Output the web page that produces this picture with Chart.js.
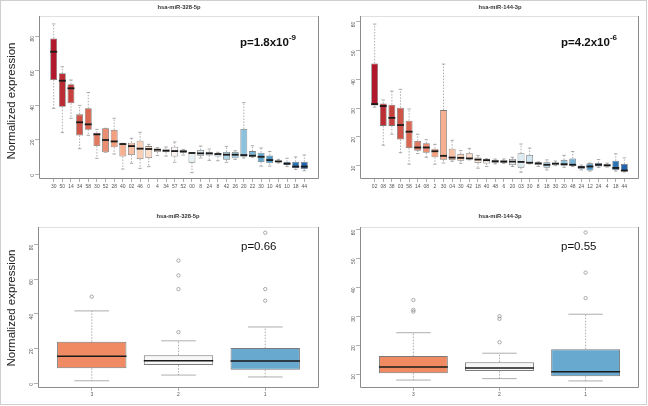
<!DOCTYPE html>
<html>
<head>
<meta charset="utf-8">
<script src="https://cdn.jsdelivr.net/npm/chart.js@4.4.1/dist/chart.umd.min.js"></script>
<style>
  html, body { margin: 0; padding: 0; background: #fff; }
  #wrap { position: relative; width: 648px; height: 406px; background: #fff; overflow: hidden; }
  #wrap canvas { position: absolute; }
  .frame { position: absolute; left: 0; top: 0; width: 647px; height: 405px; box-sizing: border-box; border: 1px solid #cfcfcf; pointer-events: none; }
  .title { position: absolute; width: 280px; text-align: center; font: bold 5.8px "Liberation Sans", Arial, sans-serif; color: #333; }
  .pval { position: absolute; font: 11.5px "Liberation Sans", Arial, sans-serif; color: #111; white-space: nowrap; }
  .pval.b { font-weight: bold; }
  .pval sup { font-size: 8px; position: relative; top: -1px; }
  .ylab { position: absolute; font: 11.5px "Liberation Sans", Arial, sans-serif; color: #222; white-space: nowrap; transform: translate(-50%, -50%) rotate(-90deg); }
</style>
</head>
<body>
<div id="wrap">
  <canvas id="cTL" width="324" height="203" style="left:0;top:0"></canvas>
  <canvas id="cTR" width="324" height="203" style="left:324px;top:0"></canvas>
  <canvas id="cBL" width="324" height="203" style="left:0;top:203px"></canvas>
  <canvas id="cBR" width="324" height="203" style="left:324px;top:203px"></canvas>

  <div class="title" style="left:39px;top:4px">hsa-miR-328-5p</div>
  <div class="title" style="left:360px;top:4px">hsa-miR-144-3p</div>
  <div class="title" style="left:38px;top:213px">hsa-miR-328-5p</div>
  <div class="title" style="left:360px;top:213px">hsa-miR-144-3p</div>

  <div class="pval b" style="left:240px;top:34px">p=1.8x10<sup>-9</sup></div>
  <div class="pval b" style="left:561px;top:34px">p=4.2x10<sup>-6</sup></div>
  <div class="pval" style="left:241px;top:240px">p=0.66</div>
  <div class="pval" style="left:561px;top:240px">p=0.55</div>

  <div class="ylab" style="left:11px;top:101px">Normalized expression</div>
  <div class="ylab" style="left:11px;top:308px">Normalized expression</div>
  <div class="frame"></div>
</div>
<script>
// hsa-miR-328-5p, per sample
const tlLabels = ['30','50','14','34','58','30','52','28','40','02','46','0','4','34','57','52','00','8','24','8','42','26','20','22','30','10','46','10','18','44'];
const tlLow  = [38.1,24.0,32.3,14.7,22.4,9.1,12.6,11.6,2.9,6.2,3.3,4.3,10.8,10.4,6.8,11.0,0.8,9.3,7.9,7.7,6.8,8.5,9.3,9.7,4.6,4.6,6.4,4.3,2.7,1.9];
const tlQ1   = [54.5,39.0,41.0,22.4,25.7,16.2,12.6,15.5,10.2,11.0,8.7,9.3,12.8,12.6,10.2,12.4,6.6,10.6,10.8,10.2,8.3,9.1,10.0,10.2,7.0,6.2,7.0,5.2,3.3,2.9];
const tlMed  = [70.9,54.1,49.7,30.0,28.8,23.0,19.7,18.9,17.4,16.2,14.7,14.5,14.1,13.5,13.3,13.1,12.2,12.0,12.0,11.6,11.2,11.2,11.0,10.6,10.0,8.1,7.3,6.0,4.3,4.3];
const tlQ3   = [78.6,58.4,52.0,34.6,38.1,24.0,26.5,25.5,17.4,18.2,19.3,16.2,14.7,14.7,15.8,13.9,12.4,13.9,12.9,12.0,12.8,12.8,26.1,13.3,12.4,10.8,7.9,7.1,7.1,7.1];
const tlHigh = [87.0,62.2,54.5,39.8,47.3,25.9,26.5,32.3,17.8,20.7,24.2,17.2,15.3,15.7,18.6,14.3,12.4,16.2,14.5,12.6,16.0,13.5,41.4,16.4,15.1,13.1,8.5,9.1,9.9,11.0];
const tlTicks = [0, 20, 40, 60, 80];

// hsa-miR-144-3p, per sample
const trLabels = ['02','08','38','03','58','14','08','2','30','04','30','42','18','40','48','6','20','03','30','8','18','30','20','48','24','12','24','4','18','44'];
const trLow  = [30.3,17.1,20.9,14.5,10.5,14.2,12.9,10.5,10.9,11.5,10.8,12.0,9.1,9.7,10.6,10.8,9.7,7.7,10.6,9.7,8.5,10.0,9.4,9.7,8.5,8.1,9.4,9.5,8.1,7.8];
const trQ1   = [30.9,23.8,23.8,19.1,16.1,15.2,14.5,12.9,12.0,11.9,11.7,12.2,10.9,10.7,11.0,11.0,10.2,9.3,10.8,10.2,9.3,10.1,10.0,10.0,8.8,8.3,9.7,9.7,8.5,8.0];
const trMed  = [31.4,30.7,26.6,24.1,21.8,16.3,16.3,15.0,13.4,12.8,12.7,12.5,12.1,11.9,11.5,11.4,11.4,11.3,11.0,10.8,10.3,10.7,10.5,10.3,9.5,9.7,10.3,10.1,9.2,8.3];
const trQ3   = [45.5,31.6,31.2,30.1,25.6,18.6,17.8,15.9,29.3,15.9,14.1,14.3,12.8,12.2,12.0,11.9,12.3,14.3,13.7,11.0,11.2,11.0,12.0,12.5,10.0,10.8,10.9,10.5,11.7,10.6];
const trHigh = [59.2,32.8,35.9,36.5,29.7,20.9,19.0,17.4,45.3,18.8,15.2,16.0,13.5,12.4,12.3,12.3,12.9,17.5,16.1,11.3,12.0,11.6,13.6,14.9,10.2,10.9,12.1,10.9,14.1,12.7];
const trTicks = [10, 20, 30, 40, 50, 60];

// grouped (3 / 2 / 1)
const grpLabels = ['3', '2', '1'];
const blLow  = [1.3, 4.6, 3.5];
const blQ1   = [8.6, 10.4, 7.7];
const blMed  = [15.5, 12.9, 12.7];
const blQ3   = [23.8, 16.1, 20.2];
const blHigh = [41.7, 24.4, 32.4];
const blOutGroup = ['3','2','2','2','2','1','1','1'];
const blOutValue = [49.9, 29.4, 54.3, 62.2, 70.8, 47.6, 54.3, 86.9];
const blTicks = [0, 20, 40, 60, 80];

const brLow  = [7.9, 8.4, 7.6];
const brQ1   = [10.3, 11.0, 9.2];
const brMed  = [12.4, 12.1, 10.8];
const brQ3   = [16.2, 14.1, 18.6];
const brHigh = [24.3, 17.2, 30.7];
const brOutGroup = ['3','3','3','2','2','2','1','1','1'];
const brOutValue = [35.6, 32.2, 31.6, 30.0, 29.1, 21.0, 59.0, 45.1, 36.3];
const brTicks = [10, 20, 30, 40, 50, 60];

const grpColors = ['#EF8A62', '#F7F7F7', '#67A9CF'];

// RdBu ramp for the per-sample panels
const rdbu = ['#B2182B','#D6604D','#F4A582','#FDDBC7','#F7F7F7','#D1E5F0','#92C5DE','#4393C3','#2166AC'];
function ramp(n) {
    const hex = h => [1, 3, 5].map(k => parseInt(h.substr(k, 2), 16));
    const out = [];
    for (let i = 0; i < n; i++) {
        const t = i / (n - 1) * (rdbu.length - 1);
        const k = Math.min(Math.floor(t), rdbu.length - 2);
        const f = t - k;
        const a = hex(rdbu[k]), b = hex(rdbu[k + 1]);
        out.push('rgb(' + a.map((v, j) => Math.round(v + (b[j] - v) * f)).join(',') + ')');
    }
    return out;
}

// whiskers, staples, medians and the plot frame, placed with the chart's own scales
function boxExtras(st) {
    return {
        id: 'boxExtras',
        afterDatasetsDraw(chart) {
            const ctx = chart.ctx;
            const y = chart.scales.y;
            const meta = chart.getDatasetMeta(0);
            ctx.save();
            st.med.forEach((m, i) => {
                const bar = meta.data[i];
                const cx = bar.x, w = bar.width;
                ctx.strokeStyle = '#8a8a8a';
                ctx.lineWidth = 0.7;
                ctx.setLineDash([1.5, 1.5]);
                ctx.beginPath();
                ctx.moveTo(cx, y.getPixelForValue(st.q3[i]));
                ctx.lineTo(cx, y.getPixelForValue(st.hi[i]));
                ctx.moveTo(cx, y.getPixelForValue(st.q1[i]));
                ctx.lineTo(cx, y.getPixelForValue(st.lo[i]));
                ctx.stroke();
                ctx.setLineDash([]);
                ctx.beginPath();
                [st.hi[i], st.lo[i]].forEach(v => {
                    const py = y.getPixelForValue(v);
                    ctx.moveTo(cx - w / 4, py);
                    ctx.lineTo(cx + w / 4, py);
                });
                ctx.stroke();
                ctx.strokeStyle = '#1a1a1a';
                ctx.lineWidth = st.medWidth;
                ctx.beginPath();
                const pm = y.getPixelForValue(m);
                ctx.moveTo(cx - w / 2, pm);
                ctx.lineTo(cx + w / 2, pm);
                ctx.stroke();
            });
            ctx.restore();
        },
        afterDraw(chart) {
            const a = chart.chartArea, ctx = chart.ctx;
            ctx.save();
            ctx.lineWidth = 1;
            ctx.strokeStyle = '#e0e0e0';
            ctx.beginPath();
            ctx.moveTo(a.left, a.top + 0.5); ctx.lineTo(a.right, a.top + 0.5);
            ctx.stroke();
            ctx.strokeStyle = '#8c8c8c';
            ctx.beginPath();
            ctx.moveTo(a.left + 0.5, a.top); ctx.lineTo(a.left + 0.5, a.bottom + 0.5);
            ctx.lineTo(a.right - 0.5, a.bottom + 0.5); ctx.lineTo(a.right - 0.5, a.top);
            ctx.stroke();
            ctx.restore();
        }
    };
}

function makePanel(id, p) {
    const n = p.labels.length;
    // R style x range: 0.5 .. n + 0.5, widened 4% each side
    const xPad = 0.04 * n;
    const datasets = [{
        data: p.q1.map((v, i) => ({ x: i + 1, y: [v, p.q3[i]] })),
        backgroundColor: p.colors,
        borderColor: '#7a7a7a',
        borderWidth: p.boxLine,
        borderSkipped: false,
        barPercentage: 0.8,
        categoryPercentage: 1.0
    }];
    if (p.outGroup) {
        datasets.push({
            type: 'line',
            showLine: false,
            data: p.outGroup.map((g, i) => ({ x: p.labels.indexOf(g) + 1, y: p.outValue[i] })),
            pointRadius: 1.7,
            pointBorderWidth: 0.6,
            pointBorderColor: '#777',
            pointBackgroundColor: 'rgba(0,0,0,0)'
        });
    }
    return new Chart(document.getElementById(id), {
        type: 'bar',
        data: { datasets: datasets },
        options: {
            responsive: false,
            animation: false,
            devicePixelRatio: 1,
            layout: { padding: p.padding },
            plugins: { legend: { display: false }, tooltip: { enabled: false } },
            scales: {
                x: {
                    type: 'linear',
                    min: 0.5 - xPad, max: n + 0.5 + xPad,
                    offset: false,
                    grid: { display: true, offset: false, drawOnChartArea: false, tickLength: 4, color: '#8c8c8c', lineWidth: 0.7 },
                    border: { display: false },
                    ticks: {
                        autoSkip: false, maxRotation: 0, minRotation: 0, padding: p.xPad, color: '#555',
                        font: { family: 'Liberation Sans', size: 5 },
                        callback: v => p.labels[v - 1]
                    },
                    afterBuildTicks: s => { s.ticks = p.labels.map((l, i) => ({ value: i + 1 })); },
                    afterFit: s => { s.height = p.xHeight; }
                },
                y: {
                    min: p.yMin, max: p.yMax,
                    grid: { display: true, drawOnChartArea: false, tickLength: 4, color: '#8c8c8c', lineWidth: 0.7 },
                    border: { display: false },
                    ticks: { minRotation: 90, maxRotation: 90, padding: 2, color: '#555', font: { family: 'Liberation Sans', size: 5 } },
                    afterBuildTicks: s => { s.ticks = p.ticks.map(v => ({ value: v })); },
                    afterFit: s => { s.width = p.yWidth; }
                }
            }
        },
        plugins: [boxExtras({ lo: p.lo, q1: p.q1, med: p.med, q3: p.q3, hi: p.hi, medWidth: p.medWidth })]
    });
}

const sampleColors = ramp(30);

makePanel('cTL', {
    labels: tlLabels, lo: tlLow, q1: tlQ1, med: tlMed, q3: tlQ3, hi: tlHigh, colors: sampleColors,
    yMin: -2.3, yMax: 91.6, ticks: tlTicks, yWidth: 39, xHeight: 25, xPad: 2,
    padding: { top: 16, right: 5, left: 0, bottom: 0 }, medWidth: 1.8, boxLine: 0.8
});
makePanel('cTR', {
    labels: trLabels, lo: trLow, q1: trQ1, med: trMed, q3: trQ3, hi: trHigh, colors: sampleColors,
    yMin: 5.7, yMax: 62.0, ticks: trTicks, yWidth: 36, xHeight: 25, xPad: 2,
    padding: { top: 16, right: 9, left: 0, bottom: 0 }, medWidth: 1.8, boxLine: 0.8
});
makePanel('cBL', {
    labels: grpLabels, lo: blLow, q1: blQ1, med: blMed, q3: blQ3, hi: blHigh, colors: grpColors,
    outGroup: blOutGroup, outValue: blOutValue,
    yMin: -2.3, yMax: 90.2, ticks: blTicks, yWidth: 38, xHeight: 19, xPad: 1,
    padding: { top: 24, right: 5, left: 0, bottom: 0 }, medWidth: 1.5, boxLine: 1
});
makePanel('cBR', {
    labels: grpLabels, lo: brLow, q1: brQ1, med: brMed, q3: brQ3, hi: brHigh, colors: grpColors,
    outGroup: brOutGroup, outValue: brOutValue,
    yMin: 5.5, yMax: 60.9, ticks: brTicks, yWidth: 36, xHeight: 19, xPad: 1,
    padding: { top: 24, right: 9, left: 0, bottom: 0 }, medWidth: 1.5, boxLine: 1
});
</script>
</body>
</html>
